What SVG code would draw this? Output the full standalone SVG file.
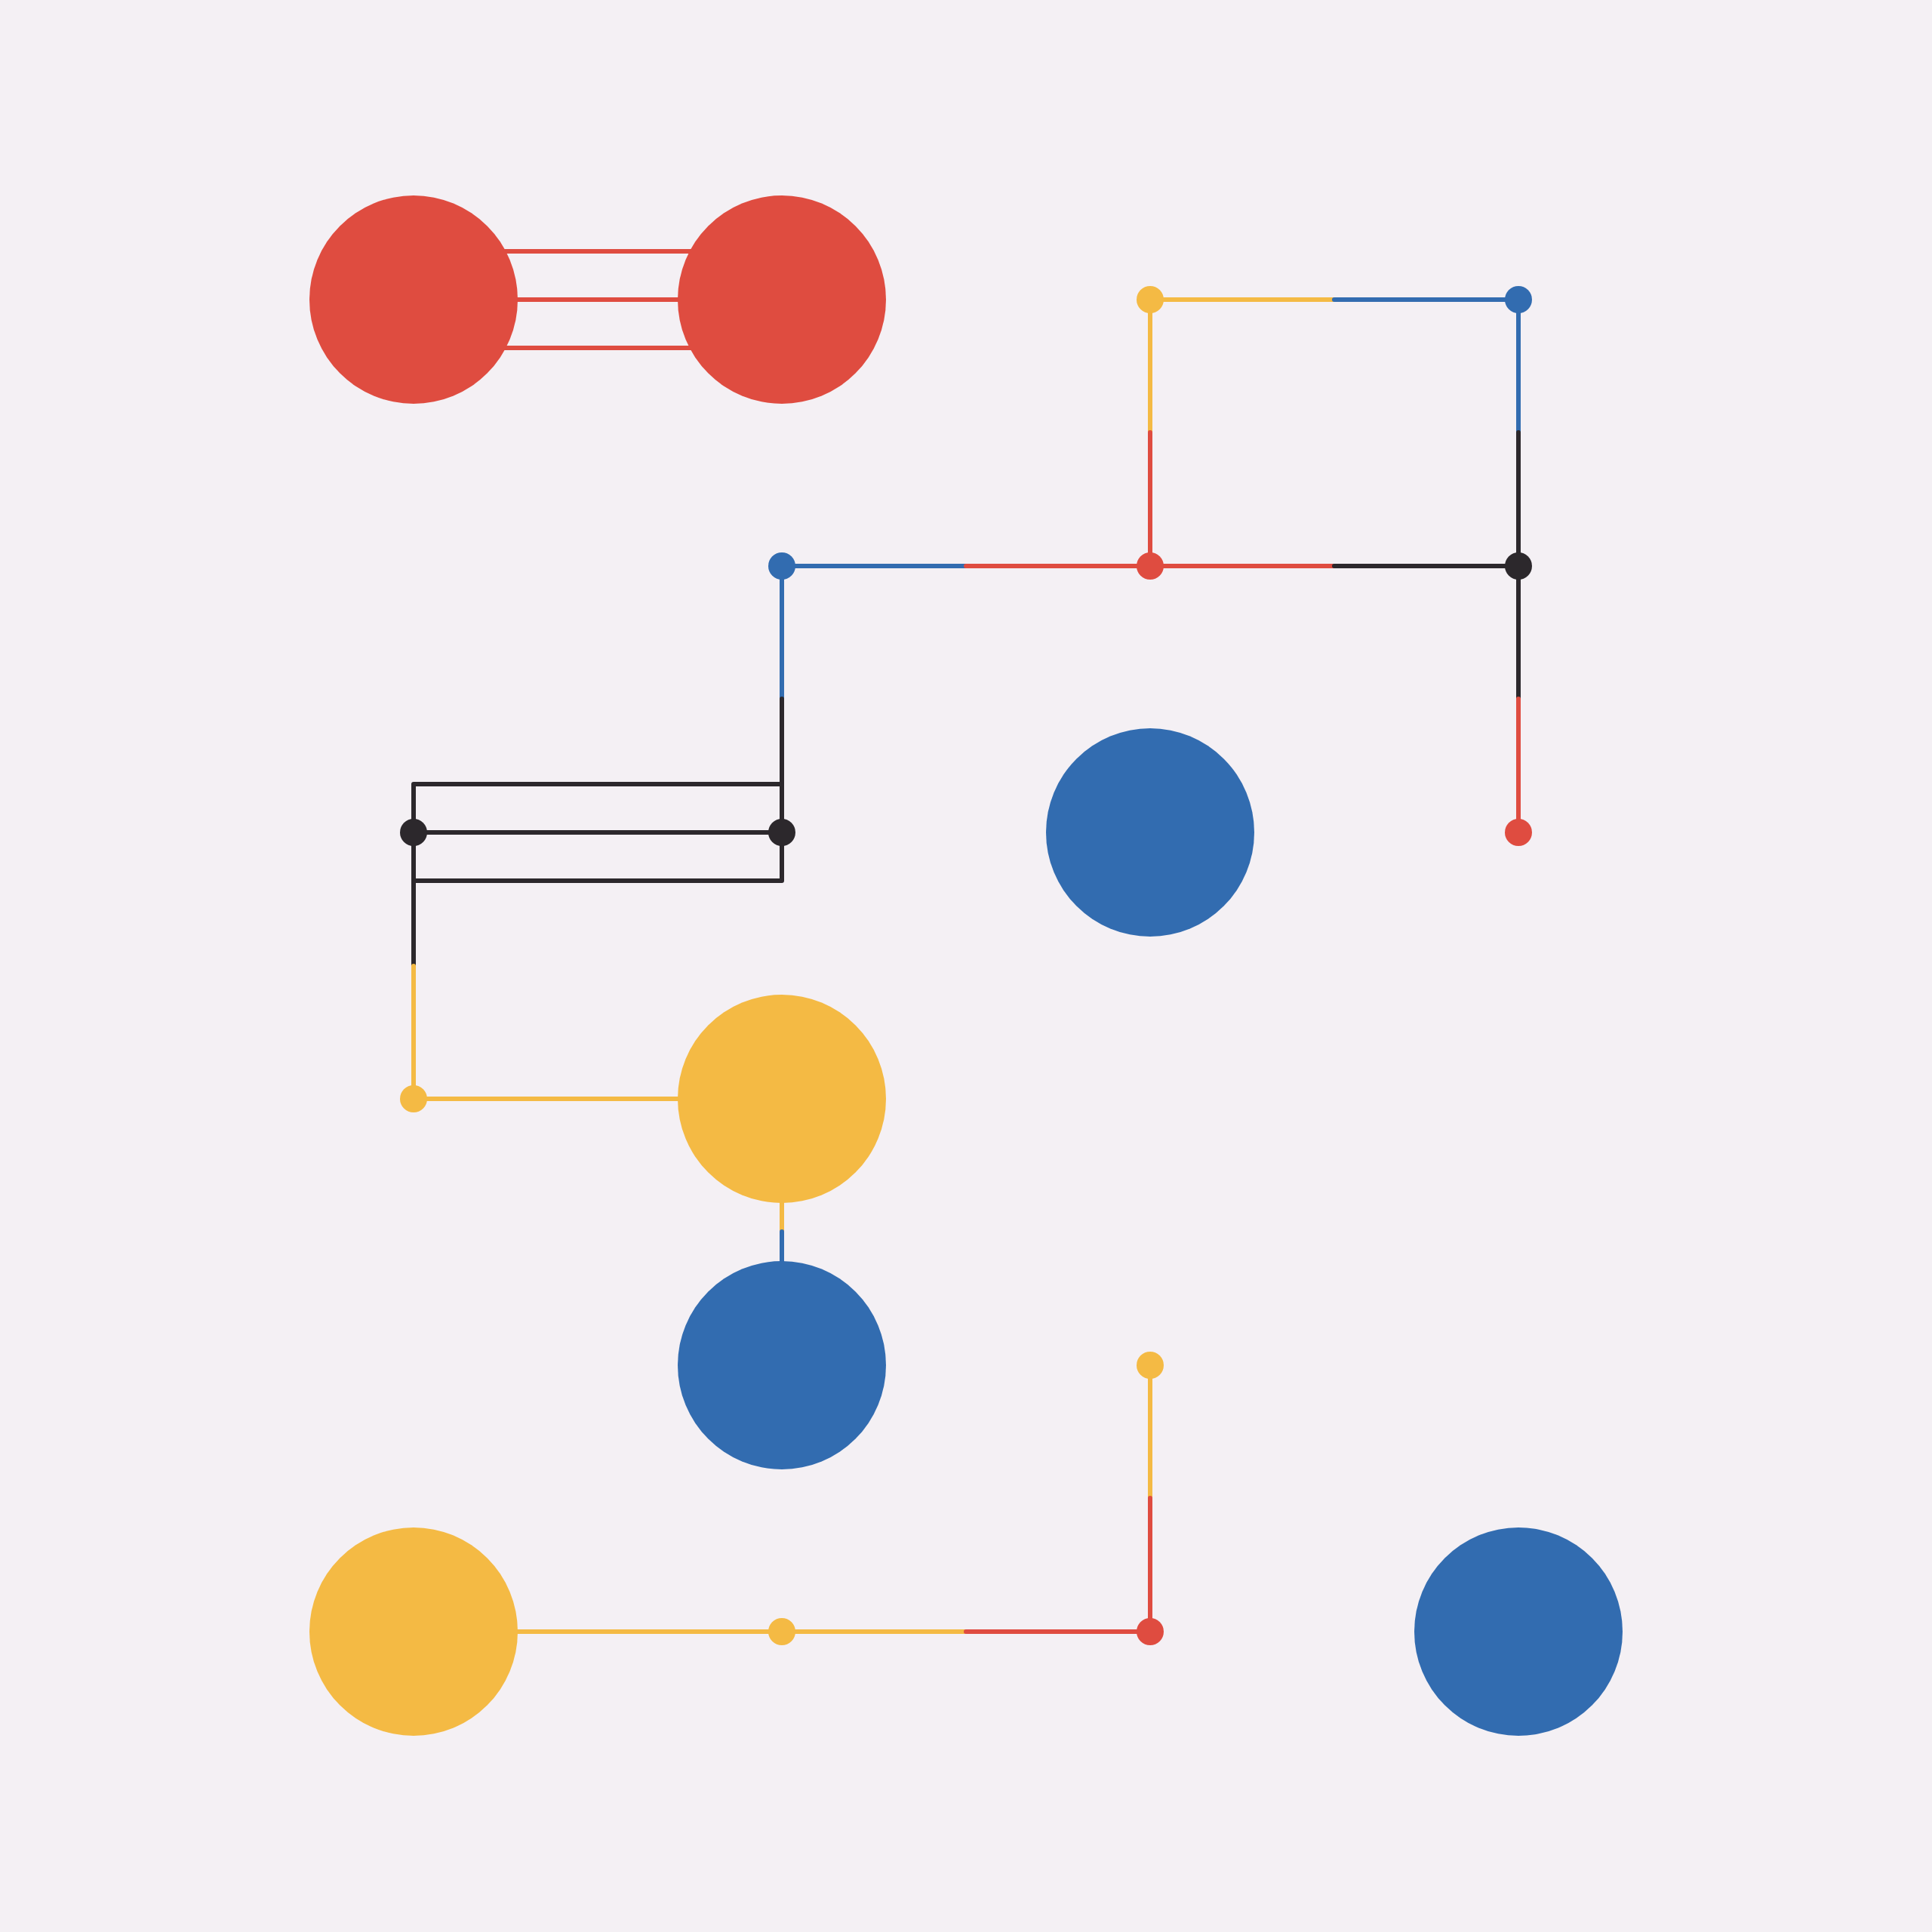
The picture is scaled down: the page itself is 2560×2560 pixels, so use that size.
<svg xmlns="http://www.w3.org/2000/svg" width="2560" height="2560" viewBox="0 0 2560 2560">
<style>
.e{fill:none;stroke-width:6;stroke-linecap:round;stroke-linejoin:round}
.r{stroke:#DF4C40}.y{stroke:#F4BA44}.b{stroke:#326CB0}.k{stroke:#2C282C}
.nr{fill:#DF4C40}.ny{fill:#F4BA44}.nb{fill:#326CB0}.nk{fill:#2C282C}
</style>
<rect width="2560" height="2560" fill="#F4F0F4"/>
<g id="connectors">
<!-- red triple -->
<path class="e r" d="M548,333H1036M548,397H1036M548,461H1036"/>
<!-- top square -->
<path class="e y" d="M1524,397H1768"/><path class="e b" d="M1768,397H2012"/>
<path class="e y" d="M1524,397V573"/><path class="e r" d="M1524,573V750"/>
<path class="e b" d="M2012,397V573"/><path class="e k" d="M2012,573V750"/>
<path class="e b" d="M1036,750H1280"/><path class="e r" d="M1280,750H1524"/>
<path class="e r" d="M1524,750H1768"/><path class="e k" d="M1768,750H2012"/>
<path class="e b" d="M1036,750V926"/><path class="e k" d="M1036,926V1103"/>
<path class="e k" d="M2012,750V926"/><path class="e r" d="M2012,926V1103"/>
<!-- black triple -->
<path class="e k" d="M548,1103V1039H1036V1103M548,1103H1036M548,1103V1167H1036V1103"/>
<path class="e k" d="M548,1103V1280"/><path class="e y" d="M548,1280V1456"/>
<path class="e y" d="M548,1456H1036"/>
<path class="e y" d="M1036,1456V1632"/><path class="e b" d="M1036,1632V1809"/>
<path class="e y" d="M548,2162H1036"/>
<path class="e y" d="M1036,2162H1280"/><path class="e r" d="M1280,2162H1524"/>
<path class="e y" d="M1524,1809V1985"/><path class="e r" d="M1524,1985V2162"/>
</g>
<g id="n1"><circle class="nr" cx="548" cy="397" r="138"/></g>
<g id="n2"><circle class="nr" cx="1036" cy="397" r="138"/></g>
<g id="n3"><circle class="ny" cx="1524" cy="397" r="18"/></g>
<g id="n4"><circle class="nb" cx="2012" cy="397" r="18"/></g>
<g id="n5"><circle class="nb" cx="1036" cy="750" r="18"/></g>
<g id="n6"><circle class="nr" cx="1524" cy="750" r="18"/></g>
<g id="n7"><circle class="nk" cx="2012" cy="750" r="18"/></g>
<g id="n8"><circle class="nk" cx="548" cy="1103" r="18"/></g>
<g id="n9"><circle class="nk" cx="1036" cy="1103" r="18"/></g>
<g id="n10"><circle class="nb" cx="1524" cy="1103" r="138"/></g>
<g id="n11"><circle class="nr" cx="2012" cy="1103" r="18"/></g>
<g id="n12"><circle class="ny" cx="548" cy="1456" r="18"/></g>
<g id="n13"><circle class="ny" cx="1036" cy="1456" r="138"/></g>
<g id="n14"><circle class="nb" cx="1036" cy="1809" r="138"/></g>
<g id="n15"><circle class="ny" cx="1524" cy="1809" r="18"/></g>
<g id="n16"><circle class="ny" cx="548" cy="2162" r="138"/></g>
<g id="n17"><circle class="ny" cx="1036" cy="2162" r="18"/></g>
<g id="n18"><circle class="nr" cx="1524" cy="2162" r="18"/></g>
<g id="n19"><circle class="nb" cx="2012" cy="2162" r="138"/></g>
</svg>
